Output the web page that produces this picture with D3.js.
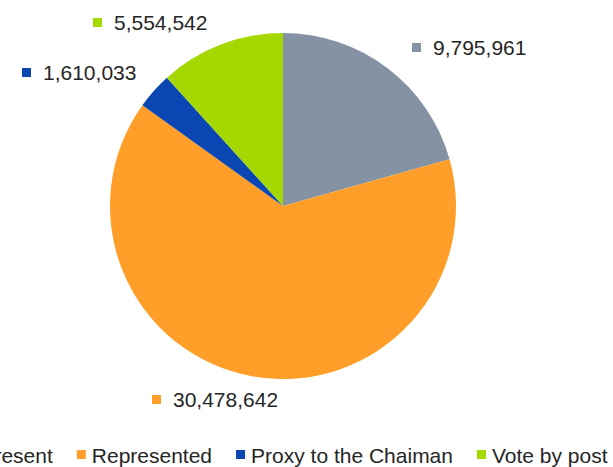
<!DOCTYPE html>
<html>
<head>
<meta charset="utf-8">
<script src="https://cdn.jsdelivr.net/npm/d3@7"></script>
<style>
  html, body { margin: 0; padding: 0; background: #ffffff; overflow: hidden; }
  svg { display: block; font-family: "Liberation Sans", Arial, sans-serif; }
</style>
</head>
<body>
<svg id="chart" width="613" height="467"></svg>
<script>
// ---- data ----
const categories = ["Present", "Represented", "Proxy to the Chaiman", "Vote by post"];
const values = [9795961, 30478642, 1610033, 5554542];
const colors = ["#8592A4", "#FF9F2A", "#0A47B3", "#A5D700"];

// ---- layout (separate from data) ----
const W = 613, H = 467;
const cx = 283, cy = 206, R = 173;
// label anchors relative to pie centre: [marker left x, text baseline y]
const labelAnchors = [[129, -151], [-131, 201], [-261, -126], [-190, -176]];
const fontSize = 21;
const textColor = "#262626";

const svg = d3.select("#chart");
const fmt = d3.format(",");

const pie = d3.pie().sort(null).value(d => d.value);
const arc = d3.arc().innerRadius(0).outerRadius(R);
const data = categories.map((c, i) => ({ name: c, value: values[i], color: colors[i], anchor: labelAnchors[i] }));

const g = svg.append("g").attr("transform", `translate(${cx},${cy})`);
g.selectAll("path.slice")
  .data(pie(data))
  .join("path")
  .attr("class", "slice")
  .attr("d", arc)
  .attr("fill", d => d.data.color);

// data labels
const lab = g.selectAll("g.lab").data(data).join("g").attr("class", "lab")
  .attr("transform", d => `translate(${d.anchor[0]},${d.anchor[1]})`);
lab.append("rect").attr("x", 0).attr("y", -12).attr("width", 9).attr("height", 9)
  .attr("fill", d => d.color);
lab.append("text").attr("x", 21).attr("y", 0)
  .attr("font-size", fontSize).attr("fill", textColor)
  .text(d => fmt(d.value));

// legend, centred on chart centre
const legend = svg.append("g");
const items = legend.selectAll("g.item").data(data).join("g").attr("class", "item");
items.append("rect").attr("width", 9).attr("height", 9).attr("y", -13).attr("fill", d => d.color);
items.append("text").attr("x", 15).attr("y", 0).attr("font-size", fontSize).attr("fill", textColor)
  .text(d => d.name);
let x = 0;
const gap = 24;
items.each(function () {
  const el = d3.select(this);
  el.attr("transform", `translate(${x},0)`);
  const tw = el.select("text").node().getComputedTextLength();
  x += 15 + tw + gap;
});
const total = x - gap;
legend.attr("transform", `translate(${cx - total / 2 + 3.5},463)`);
</script>
</body>
</html>
